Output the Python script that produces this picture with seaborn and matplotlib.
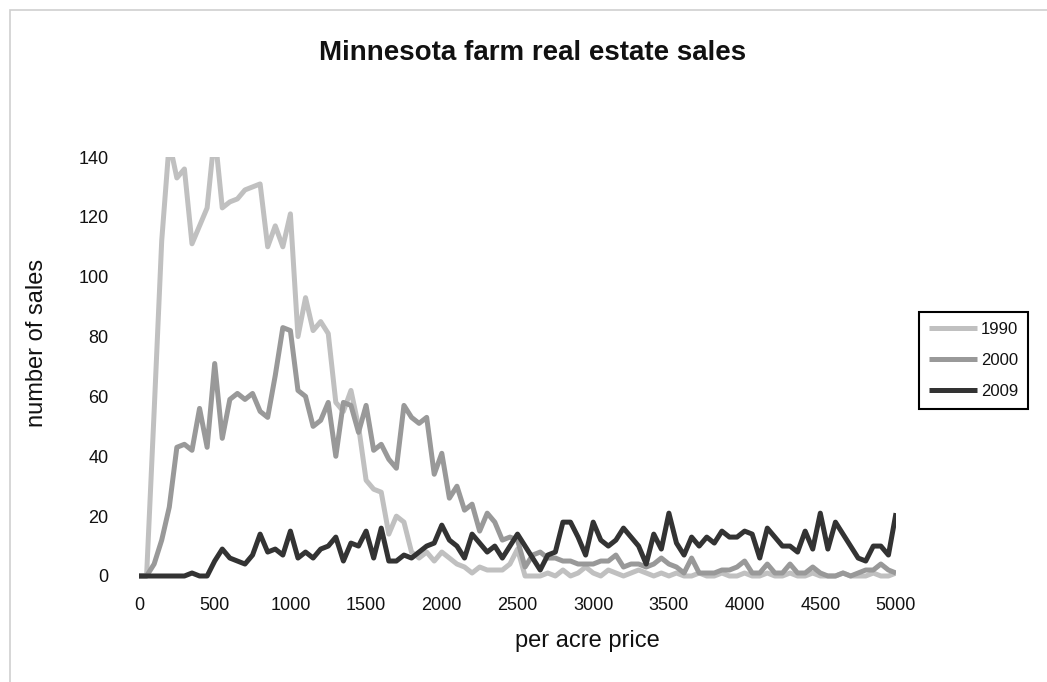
import matplotlib
matplotlib.use("Agg")
import matplotlib.pyplot as plt
import numpy as np
import pandas as pd
import seaborn as sns
from matplotlib.patches import Rectangle
from matplotlib.transforms import Bbox, TransformedBbox

# ---------------- data ----------------
prices = list(range(0, 5001, 50))

sales_1990 = [0, 0, 55, 112, 145, 133, 136, 111, 117, 123,
              148, 123, 125, 126, 129, 130, 131, 110, 117, 110,
              121, 80, 93, 82, 85, 81, 58, 55, 62, 50,
              32, 29, 28, 14, 20, 18, 8, 6, 8, 5,
              8, 6, 4, 3, 1, 3, 2, 2, 2, 4,
              9, 0, 0, 0, 1, 0, 2, 0, 1, 3,
              1, 0, 2, 1, 0, 1, 2, 1, 0, 1,
              0, 1, 0, 0, 1, 0, 0, 1, 0, 0,
              1, 0, 0, 1, 0, 0, 1, 0, 0, 1,
              0, 0, 0, 1, 0, 0, 0, 1, 0, 0,
              1]

sales_2000 = [0, 0, 4, 12, 23, 43, 44, 42, 56, 43,
              71, 46, 59, 61, 59, 61, 55, 53, 67, 83,
              82, 62, 60, 50, 52, 58, 40, 58, 57, 48,
              57, 42, 44, 39, 36, 57, 53, 51, 53, 34,
              41, 26, 30, 22, 24, 15, 21, 18, 12, 13,
              12, 3, 7, 8, 6, 6, 5, 5, 4, 4,
              4, 5, 5, 7, 3, 4, 4, 3, 4, 6,
              4, 3, 1, 6, 1, 1, 1, 2, 2, 3,
              5, 1, 1, 4, 1, 1, 4, 1, 1, 3,
              1, 0, 0, 1, 0, 1, 2, 2, 4, 2,
              1]

sales_2009 = [0, 0, 0, 0, 0, 0, 0, 1, 0, 0,
              5, 9, 6, 5, 4, 7, 14, 8, 9, 7,
              15, 6, 8, 6, 9, 10, 13, 5, 11, 10,
              15, 6, 16, 5, 5, 7, 6, 8, 10, 11,
              17, 12, 10, 6, 14, 11, 8, 10, 6, 10,
              14, 10, 6, 2, 7, 8, 18, 18, 13, 7,
              18, 12, 10, 12, 16, 13, 10, 4, 14, 9,
              21, 11, 7, 13, 10, 13, 11, 15, 13, 13,
              15, 14, 6, 16, 13, 10, 10, 8, 15, 9,
              21, 9, 18, 14, 10, 6, 5, 10, 10, 7,
              21]

years = ["1990", "2000", "2009"]
line_colors = ["#c0c0c0", "#999999", "#333333"]
x_ticks = [0, 500, 1000, 1500, 2000, 2500, 3000, 3500, 4000, 4500, 5000]
y_ticks = [0, 20, 40, 60, 80, 100, 120, 140]

assert len(sales_1990) == len(sales_2000) == len(sales_2009) == len(prices)

df = pd.concat([
    pd.DataFrame({"price": prices, "sales": s, "year": y})
    for s, y in zip([sales_1990, sales_2000, sales_2009], years)
], ignore_index=True)

# ---------------- style ----------------
sns.set_theme(style="white")
plt.rcParams["font.family"] = ["Liberation Sans", "DejaVu Sans"]

W, H = 1047, 682
fig = plt.figure(figsize=(W / 100, H / 100), dpi=100)
fig.patch.set_facecolor("white")

ax = fig.add_axes([139 / W, 1 - 576 / H, (896 - 139) / W, (576 - 157) / H])
sns.lineplot(data=df, x="price", y="sales", hue="year",
             palette=dict(zip(years, line_colors)), hue_order=years,
             linewidth=3.6, ax=ax, legend=True)

ax.set_xlim(0, 5000)
ax.set_ylim(0, 140)
ax.set_xticks(x_ticks)
ax.set_yticks(y_ticks)
ax.set_xticklabels([str(t) for t in x_ticks], fontsize=13, color="#111111")
ax.set_yticklabels([str(t) for t in y_ticks], fontsize=13, color="#111111")
ax.tick_params(axis="x", length=0, pad=15)
ax.tick_params(axis="y", length=0, pad=22)
for sp in ax.spines.values():
    sp.set_visible(False)
ax.set_xlabel("")
ax.set_ylabel("")
ax.grid(False)

# clip only at the top (like the original), keep the zero line full width
clip = TransformedBbox(Bbox([[0, -20], [5000, 140]]), ax.transData)
for ln in ax.get_lines():
    ln.set_clip_path(None)
    ln.set_clip_box(clip)
    ln.set_solid_capstyle("butt")
    ln.set_solid_joinstyle("round")

# legend
handles, labels = ax.get_legend_handles_labels()
leg = ax.legend(handles, labels, loc="upper left",
                bbox_to_anchor=(919 / W, 1 - 312 / H),
                bbox_transform=fig.transFigure, borderaxespad=0,
                fontsize=12, handlelength=2.9, handletextpad=0.2,
                labelspacing=0.95, borderpad=0.6, frameon=True,
                fancybox=False, framealpha=1)
leg.get_frame().set_edgecolor("black")
leg.get_frame().set_linewidth(1.5)
for t in leg.get_texts():
    t.set_color("#111111")

# texts
fig.text(533 / W, 1 - 53 / H, "Minnesota farm real estate sales",
         ha="center", va="center", fontsize=20, fontweight="bold",
         color="#111111")
fig.text(587 / W, 1 - 641 / H, "per acre price", ha="center", va="center",
         fontsize=17, color="#111111")
fig.text(37 / W, 1 - 343 / H, "number of sales", ha="center", va="center",
         rotation=90, fontsize=17, color="#111111")

# chart area border
fig.patches.append(Rectangle((10 / W, -0.02), 1.1, (1 - 10 / H) + 0.02,
                             transform=fig.transFigure, fill=False,
                             edgecolor="#cfcfcf", linewidth=1.2))

fig.savefig("out.png", dpi=100)
